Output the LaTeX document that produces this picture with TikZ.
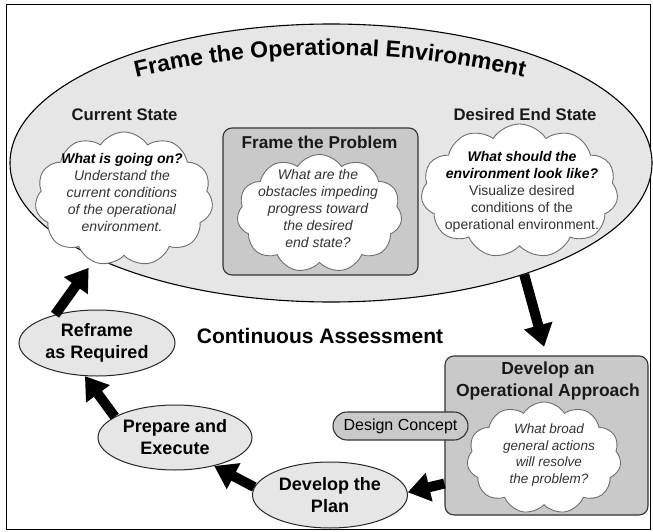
\documentclass[tikz,border=0pt]{standalone}
\usepackage{fontspec}
\setmainfont{Liberation Sans}
\usetikzlibrary{shapes.symbols,shapes.geometric,arrows.meta,decorations.text,calc}
\definecolor{envfill}{HTML}{E6E6E6}
\definecolor{boxfill}{HTML}{C9C9C9}
\definecolor{cloudline}{HTML}{6E6E6E}
\definecolor{txtgray}{HTML}{333333}
\newcommand{\setfs}[2]{\fontsize{#1}{#2}\selectfont}
\tikzset{
  envshape/.style={ellipse, draw=black, line width=1.1pt, fill=envfill, minimum width=642pt, minimum height=278pt, inner sep=0pt},
  cloudshape/.style={cloud, draw=cloudline, fill=white, line width=0.9pt, cloud puffs=11, cloud puff arc=115, inner sep=0pt},
  graybox/.style={rectangle, rounded corners=9pt, draw=black!80, line width=1.1pt, fill=boxfill, inner sep=0pt},
  stepell/.style={ellipse, draw=black!85, line width=1pt, fill=envfill, inner sep=0pt, align=center, font=\bfseries\setfs{18}{22}},
  bigarrow/.style={line width=10pt, -{Triangle[width=28pt,length=22pt]}, black},
  headtxt/.style={font=\bfseries\setfs{16.7}{20}, text=black!90},
  cloudtxt/.style={align=center, font=\itshape\setfs{14}{17}, text=txtgray, inner sep=0pt},
}
\begin{document}
\begin{tikzpicture}[x=1pt,y=-1pt]
\useasboundingbox (0,0) rectangle (653,532);
\draw[line width=1pt] (6,5) rectangle (650,529);
% big environment ellipse
\node[envshape] (env) at (331,163) {};
\path[decorate, decoration={text along path, text align=center,
  text={|\bfseries\setfs{23}{23}|Frame the Operational Environment}}]
  (330,900) ++(-110:845) arc[start angle=-110, end angle=-70, radius=845];
\node[headtxt] (cur) at (124.5,115) {Current State};
\node[headtxt] (des) at (525,115) {Desired End State};
% current state cloud
\node[cloudshape, minimum width=178pt, minimum height=134pt] (curcloud) at (124,199) {};
\node[cloudtxt] (curtxt) at (122,192) {{\bfseries\color{black}What is going on?}\\Understand the\\current conditions\\of the operational\\environment.};
% frame the problem box
\node[graybox, minimum width=195pt, minimum height=147pt] (fpbox) at (320.5,201.5) {};
\node[headtxt, font=\bfseries\setfs{17.2}{20}] (fptitle) at (319.5,142) {Frame the Problem};
\node[cloudshape, minimum width=165pt, minimum height=118pt] (fpcloud) at (319.5,213.5) {};
\node[cloudtxt] (fptxt) at (318,208.5) {What are the\\obstacles impeding\\progress toward\\the desired\\end state?};
% desired end state cloud
\node[cloudshape, minimum width=197pt, minimum height=134pt] (descloud) at (519.5,191) {};
\node[cloudtxt] (destxt) at (522,192) {{\bfseries\color{black}What should the}\\{\bfseries\color{black}environment look like?}\\{\upshape Visualize desired}\\{\upshape conditions of the}\\{\upshape operational environment.}};
% continuous assessment
\node[font=\bfseries\setfs{21}{24}] (ca) at (320,336) {Continuous Assessment};
% develop operational approach
\node[graybox, minimum width=203pt, minimum height=159pt] (devbox) at (546.5,435.5) {};
\node[headtxt, align=center, font=\bfseries\setfs{17.5}{22}] (devtitle) at (548,381) {Develop an\\Operational Approach};
\node[graybox, rounded corners=14pt, minimum width=135pt, minimum height=28pt, font=\setfs{16}{18}] (dc) at (400.5,426) {Design Concept};
\node[cloudshape, minimum width=154pt, minimum height=112pt] (devcloud) at (544,458) {};
\node[cloudtxt, font=\itshape\setfs{13.5}{16.7}] (devtxt) at (549,455) {What broad\\general actions\\will resolve\\the problem?};
% cycle ellipses
\node[stepell, minimum width=156pt, minimum height=66pt] (reframe) at (97,343) {Reframe\\as Required};
\node[stepell, minimum width=154pt, minimum height=65pt] (prep) at (175,437.5) {Prepare and\\Execute};
\node[stepell, minimum width=155pt, minimum height=66pt] (devplan) at (330,495) {Develop the\\Plan};
% arrows
\draw[bigarrow, shorten >=9pt] (env.330) -- (devbox.north);
\draw[bigarrow] ($(devbox.south west)!0.2!(devbox.north west)$) -- (devplan.2);
\draw[bigarrow] (devplan.174) -- (prep.324);
\draw[bigarrow] (prep.161) -- (reframe.250);
\draw[bigarrow, shorten >=12pt] (reframe.146) -- (env.202);
\end{tikzpicture}
\end{document}
